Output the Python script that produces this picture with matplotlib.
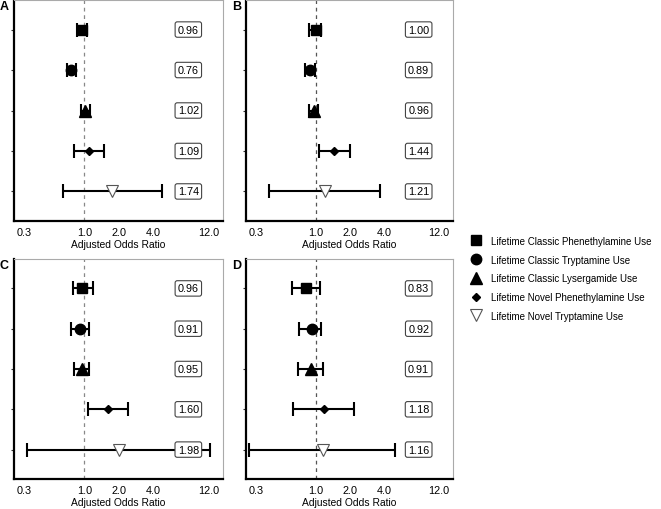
import numpy as np
import matplotlib.pyplot as plt
from matplotlib.lines import Line2D

plt.rcParams['font.family'] = ['Liberation Sans', 'DejaVu Sans']

labels = ["Lifetime Classic Phenethylamine Use",
          "Lifetime Classic Tryptamine Use",
          "Lifetime Classic Lysergamide Use",
          "Lifetime Novel Phenethylamine Use",
          "Lifetime Novel Tryptamine Use"]
panel_names = ["A", "B", "C", "D"]

# odds ratios and confidence limits per panel, same order as labels
or_A = [0.96, 0.76, 1.02, 1.09, 1.74]
lo_A = [0.87, 0.70, 0.94, 0.82, 0.65]
hi_A = [1.06, 0.84, 1.11, 1.48, 4.70]

or_B = [1.00, 0.89, 0.96, 1.44, 1.21]
lo_B = [0.88, 0.80, 0.87, 1.06, 0.39]
hi_B = [1.12, 0.98, 1.05, 2.00, 3.70]

or_C = [0.96, 0.91, 0.95, 1.60, 1.98]
lo_C = [0.79, 0.77, 0.82, 1.08, 0.32]
hi_C = [1.18, 1.10, 1.09, 2.40, 12.3]

or_D = [0.83, 0.92, 0.91, 1.18, 1.16]
lo_D = [0.62, 0.71, 0.70, 0.63, 0.26]
hi_D = [1.09, 1.12, 1.15, 2.17, 5.00]

tick_vals = [0.3, 1.0, 2.0, 4.0, 12.0]

panels = [(or_A, lo_A, hi_A), (or_B, lo_B, hi_B),
          (or_C, lo_C, hi_C), (or_D, lo_D, hi_D)]

markers = [dict(marker='s', ms=7, mfc='black', mec='black'),
           dict(marker='o', ms=7.5, mfc='black', mec='black'),
           dict(marker='^', ms=8, mfc='black', mec='black'),
           dict(marker='D', ms=4.2, mfc='black', mec='black'),
           dict(marker='v', ms=9, mfc='white', mec='#555555', mew=0.8)]

W, H = 661, 510
fig = plt.figure(figsize=(W / 100, H / 100), dpi=100)

# pixel boxes (left, top, right, bottom)
boxes = [(14, 1, 223, 222), (246, 1, 453, 222),
         (14, 260, 223, 480), (246, 260, 453, 480)]

for k, (name, (orv, lo, hi), bx) in enumerate(zip(panel_names, panels, boxes)):
    l, t, r, b = bx
    ax = fig.add_axes([l / W, 1 - b / H, (r - l) / W, (b - t) / H])
    ax.set_xscale('log')
    ypos = np.arange(1, len(labels) + 1)
    ax.axvline(1.0, color='#888888' if k % 2 == 0 else '#555555',
               ls=(0, (3, 3)), lw=0.9, zorder=1)
    for i in range(len(labels)):
        ax.errorbar(orv[i], ypos[i], xerr=[[orv[i] - lo[i]], [hi[i] - orv[i]]],
                    fmt='none', ecolor='black', elinewidth=1.5, capsize=5,
                    capthick=1.5, zorder=2)
        ax.plot(orv[i], ypos[i], ls='none', zorder=3, **markers[i])
        ax.text(8.0, ypos[i], f"{orv[i]:.2f}", ha='center', va='center',
                fontsize=7.8, zorder=4,
                bbox=dict(boxstyle='round,pad=0.25,rounding_size=0.2',
                          fc='white', ec='#444444', lw=0.8))
    ax.set_xlim(0.245, 16)
    ax.set_ylim(5.73, 0.27)
    ax.set_xticks(tick_vals)
    ax.set_xticklabels([f"{v:.1f}" for v in tick_vals])
    ax.xaxis.set_minor_locator(plt.NullLocator())
    ax.set_yticks(ypos)
    ax.set_yticklabels([])
    ax.tick_params(axis='x', length=0, pad=4, labelsize=7.8)
    ax.tick_params(axis='y', length=2.5, width=0.8, color='#333333')
    ax.set_xlabel("Adjusted Odds Ratio", fontsize=7.4, labelpad=2)
    for s in ['top', 'right']:
        ax.spines[s].set_color('#aaaaaa')
        ax.spines[s].set_linewidth(0.8)
    for s in ['left', 'bottom']:
        ax.spines[s].set_color('black')
        ax.spines[s].set_linewidth(1.6)
    fig.text((l - 14) / W, 1 - (t + 6) / H, name, fontsize=9,
             fontweight='bold', ha='left', va='center')

handles = [Line2D([], [], ls='none', **markers[i]) for i in range(len(labels))]
fig.legend(handles, labels, loc='upper left',
           bbox_to_anchor=(466 / W, 1 - 233 / H), frameon=False,
           fontsize=7, handlelength=1.2, handletextpad=1.0,
           labelspacing=0.9, borderaxespad=0)

fig.savefig("out.png", dpi=100)
